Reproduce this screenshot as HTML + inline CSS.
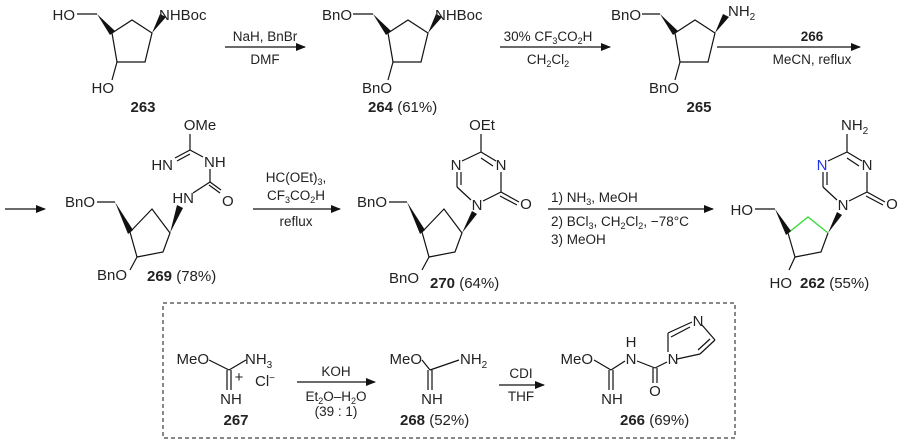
<!DOCTYPE html>
<html><head><meta charset="utf-8"><style>
html,body{margin:0;padding:0;background:#fff;}
svg{display:block;font-family:"Liberation Sans",sans-serif;}
text{font-size:15px;fill:#222;}
.r{font-size:13.5px;}
.b{font-weight:bold;}
</style></head><body>
<svg width="900" height="445" viewBox="0 0 900 445" xmlns="http://www.w3.org/2000/svg">
<defs>
<marker id="ah" markerWidth="10" markerHeight="8" refX="9" refY="4" orient="auto" markerUnits="userSpaceOnUse">
<path d="M0,0 L10,4 L0,8 Z" fill="#111"/></marker>
</defs>
<g stroke="#111" stroke-width="1.2" fill="none">
<line x1="225" y1="47" x2="305" y2="47" marker-end="url(#ah)"/>
<line x1="500" y1="47" x2="610" y2="47" marker-end="url(#ah)"/>
<line x1="717" y1="47" x2="860" y2="47" marker-end="url(#ah)"/>
<line x1="5" y1="209" x2="45" y2="209" marker-end="url(#ah)"/>
<line x1="253" y1="209" x2="340" y2="209" marker-end="url(#ah)"/>
<line x1="548" y1="209" x2="713" y2="209" marker-end="url(#ah)"/>
<line x1="297" y1="382" x2="375" y2="382" marker-end="url(#ah)"/>
<line x1="499" y1="385" x2="544" y2="385" marker-end="url(#ah)"/>
<rect x="163" y="303" width="572" height="135" stroke-dasharray="4,3" stroke-width="1"/>
</g>

<g stroke="#111" stroke-width="1.2" fill="none">
<line x1="77" y1="14" x2="97" y2="14"/>
<polygon points="112,33 132,20 152,33 145,62 117,62"/>
<line x1="117" y1="62" x2="112" y2="80"/>
</g>
<g fill="#111">
<polygon points="97,14 110,35 115,31"/>
<polygon points="152,33 160,14 166,17"/>
</g>
<text x="75" y="20" text-anchor="end">HO</text>
<text x="159" y="20">NHBoc</text>
<text x="114" y="93" text-anchor="end">HO</text>
<text x="143" y="112" text-anchor="middle" class="b">263</text>

<g transform="translate(276,0)">
<g stroke="#111" stroke-width="1.2" fill="none">
<line x1="77" y1="14" x2="97" y2="14"/>
<polygon points="112,33 132,20 152,33 145,62 117,62"/>
<line x1="117" y1="62" x2="112" y2="80"/>
</g>
<g fill="#111"><polygon points="97,14 110,35 115,31"/><polygon points="152,33 160,14 166,17"/></g>
<text x="76" y="20" text-anchor="end">BnO</text>
<text x="159" y="20">NHBoc</text>
<text x="116" y="93" text-anchor="end">BnO</text>
</g>
<text x="368" y="112"><tspan class="b">264</tspan> (61%)</text>

<g transform="translate(563,0)">
<g stroke="#111" stroke-width="1.2" fill="none">
<line x1="79" y1="14" x2="97" y2="14"/>
<polygon points="112,33 132,20 152,33 145,62 117,62"/>
<line x1="117" y1="62" x2="112" y2="80"/>
</g>
<g fill="#111"><polygon points="97,14 110,35 115,31"/><polygon points="152,33 160,14 166,17"/></g>
<text x="78" y="20" text-anchor="end">BnO</text>
<text x="165" y="16">NH<tspan font-size="10" dy="4">2</tspan></text>
<text x="116" y="93" text-anchor="end">BnO</text>
</g>
<text x="699" y="112" text-anchor="middle" class="b">265</text>

<text x="265" y="41" text-anchor="middle" class="r">NaH, BnBr</text>
<text x="265" y="64" text-anchor="middle" class="r">DMF</text>
<text x="548" y="41" text-anchor="middle" class="r">30% CF<tspan font-size="9" dy="3">3</tspan><tspan dy="-3">CO</tspan><tspan font-size="9" dy="3">2</tspan><tspan dy="-3">H</tspan></text>
<text x="548" y="64" text-anchor="middle" class="r">CH<tspan font-size="9" dy="3">2</tspan><tspan dy="-3">Cl</tspan><tspan font-size="9" dy="3">2</tspan></text>
<text x="812" y="41" text-anchor="middle" class="r b">266</text>
<text x="812" y="64" text-anchor="middle" class="r">MeCN, reflux</text>

<!-- 269 -->
<g stroke="#111" stroke-width="1.2" fill="none">
<line x1="97" y1="202" x2="115" y2="202"/>
<polygon points="130,232 152,209 170,233 163,252 137,257"/>
<line x1="137" y1="257" x2="130" y2="270"/>
<line x1="193" y1="193" x2="210" y2="182"/>
<line x1="210" y1="182" x2="221" y2="190"/>
<line x1="209" y1="185" x2="220" y2="193"/>
<line x1="210" y1="182" x2="210" y2="169"/>
<line x1="203" y1="157" x2="190" y2="150"/>
<line x1="190" y1="150" x2="175" y2="158"/>
<line x1="190" y1="154" x2="177" y2="161"/>
<line x1="190" y1="150" x2="190" y2="134"/>
</g>
<g fill="#111"><polygon points="115,202 128,234 133,230"/><polygon points="170,233 177,205 183,208"/></g>
<text x="95" y="207" text-anchor="end">BnO</text>
<text x="127" y="280" text-anchor="end">BnO</text>
<text x="200" y="130" text-anchor="middle">OMe</text>
<text x="173" y="170" text-anchor="end">HN</text>
<text x="204" y="167">NH</text>
<text x="194" y="203" text-anchor="end">HN</text>
<text x="222" y="206">O</text>
<text x="147" y="281"><tspan class="b">269</tspan> (78%)</text>

<text x="296" y="182" text-anchor="middle" class="r">HC(OEt)<tspan font-size="9" dy="3">3</tspan><tspan dy="-3">,</tspan></text>
<text x="296" y="200" text-anchor="middle" class="r">CF<tspan font-size="9" dy="3">3</tspan><tspan dy="-3">CO</tspan><tspan font-size="9" dy="3">2</tspan><tspan dy="-3">H</tspan></text>
<text x="296" y="226" text-anchor="middle" class="r">reflux</text>
<text x="551" y="202" class="r">1) NH<tspan font-size="9" dy="3">3</tspan><tspan dy="-3">, MeOH</tspan></text>
<text x="551" y="226" class="r">2) BCl<tspan font-size="9" dy="3">3</tspan><tspan dy="-3">, CH</tspan><tspan font-size="9" dy="3">2</tspan><tspan dy="-3">Cl</tspan><tspan font-size="9" dy="3">2</tspan><tspan dy="-3">, −78°C</tspan></text>
<text x="551" y="244" class="r">3) MeOH</text>

<!-- 270 -->
<g transform="translate(292,0)">
<g stroke="#111" stroke-width="1.2" fill="none">
<line x1="97" y1="202" x2="115" y2="202"/>
<polygon points="130,232 152,209 170,233 163,252 137,257"/>
<line x1="137" y1="257" x2="130" y2="270"/>
</g>
<g fill="#111"><polygon points="115,202 128,234 133,230"/><polygon points="170,233 180,211 185,214"/></g>
<text x="95" y="207" text-anchor="end">BnO</text>
<text x="127" y="283" text-anchor="end">BnO</text>
</g>
<g transform="translate(-366,0)">
<g stroke="#111" stroke-width="1.2" fill="none">
<line x1="849" y1="201" x2="867" y2="192"/>
<line x1="867" y1="192" x2="885" y2="202"/>
<line x1="866" y1="196" x2="883" y2="205"/>
<line x1="867" y1="192" x2="867" y2="172"/>
<line x1="862" y1="161" x2="847" y2="152"/>
<line x1="859" y1="166" x2="847" y2="158"/>
<line x1="847" y1="152" x2="828" y2="161"/>
<line x1="847" y1="152" x2="847" y2="134"/>
<line x1="823" y1="172" x2="823" y2="187"/>
<line x1="827" y1="172" x2="827" y2="185"/>
<line x1="823" y1="187" x2="837" y2="200"/>
</g>
<text x="843" y="210" text-anchor="middle">N</text>
<text x="867" y="170" text-anchor="middle">N</text>
<text x="822" y="170" text-anchor="middle">N</text>
<text x="892" y="209" text-anchor="middle">O</text>
<text x="848" y="130" text-anchor="middle">OEt</text>
</g>
<text x="430" y="288"><tspan class="b">270</tspan> (64%)</text>

<!-- 262 -->
<g stroke="#111" stroke-width="1.2" fill="none">
<line x1="755" y1="209" x2="775" y2="209"/>
<polyline points="828,233 821,252 795,257 788,233"/>
<line x1="795" y1="257" x2="789" y2="270"/>
<line x1="849" y1="201" x2="867" y2="192"/>
<line x1="867" y1="192" x2="885" y2="202"/>
<line x1="866" y1="196" x2="883" y2="205"/>
<line x1="867" y1="192" x2="867" y2="172"/>
<line x1="862" y1="161" x2="847" y2="152"/>
<line x1="859" y1="166" x2="847" y2="158"/>
<line x1="847" y1="152" x2="828" y2="161"/>
<line x1="847" y1="152" x2="847" y2="134"/>
<line x1="823" y1="172" x2="823" y2="187"/>
<line x1="827" y1="172" x2="827" y2="185"/>
<line x1="823" y1="187" x2="837" y2="200"/>
</g>
<polyline points="788,233 808,217 828,233" stroke="#33dd33" stroke-width="1.3" fill="none"/>
<g fill="#111"><polygon points="775,209 786,235 791,231"/><polygon points="828,233 837,212 842,215"/></g>
<text x="753" y="215" text-anchor="end">HO</text>
<text x="843" y="210" text-anchor="middle">N</text>
<text x="867" y="170" text-anchor="middle">N</text>
<text x="822" y="170" text-anchor="middle" style="fill:#2233ee">N</text>
<text x="892" y="209" text-anchor="middle">O</text>
<text x="841" y="130">NH<tspan font-size="10" dy="4">2</tspan></text>
<text x="792" y="288" text-anchor="end">HO</text>
<text x="800" y="288"><tspan class="b">262</tspan> (55%)</text>

<!-- Box -->
<g stroke="#111" stroke-width="1.2" fill="none">
<line x1="209" y1="360" x2="229" y2="370"/>
<line x1="229" y1="370" x2="246" y2="360"/>
<line x1="227" y1="370" x2="227" y2="390"/>
<line x1="231" y1="370" x2="231" y2="390"/>
<line x1="422" y1="360" x2="430" y2="370"/>
<line x1="430" y1="370" x2="459" y2="360"/>
<line x1="428" y1="370" x2="428" y2="390"/>
<line x1="432" y1="370" x2="432" y2="390"/>
<line x1="594" y1="360" x2="611" y2="370"/>
<line x1="611" y1="370" x2="625" y2="361"/>
<line x1="609" y1="370" x2="609" y2="390"/>
<line x1="613" y1="370" x2="613" y2="390"/>
<line x1="637" y1="361" x2="655" y2="368"/>
<line x1="655" y1="368" x2="667" y2="362"/>
<line x1="653" y1="368" x2="653" y2="383"/>
<line x1="657" y1="368" x2="657" y2="383"/>
<line x1="668" y1="352" x2="668" y2="333"/>
<line x1="668" y1="333" x2="692" y2="322"/>
<line x1="671" y1="337" x2="690" y2="327"/>
<line x1="702" y1="325" x2="715" y2="340"/>
<line x1="715" y1="340" x2="700" y2="354"/>
<line x1="710" y1="339" x2="698" y2="350"/>
<line x1="700" y1="354" x2="677" y2="359"/>
</g>
<text x="209" y="364" text-anchor="end">MeO</text>
<text x="245" y="364">NH<tspan font-size="10" dy="4">3</tspan></text>
<text x="239" y="382" font-size="10" text-anchor="middle">+</text>
<text x="255" y="386">Cl<tspan font-size="10" dy="-5">−</tspan></text>
<text x="231" y="404" text-anchor="middle">NH</text>
<text x="236" y="425" text-anchor="middle" class="b">267</text>
<text x="336" y="376" text-anchor="middle" class="r">KOH</text>
<text x="336" y="401" text-anchor="middle" class="r">Et<tspan font-size="9" dy="3">2</tspan><tspan dy="-3">O–H</tspan><tspan font-size="9" dy="3">2</tspan><tspan dy="-3">O</tspan></text>
<text x="336" y="416" text-anchor="middle" class="r">(39 : 1)</text>
<text x="422" y="364" text-anchor="end">MeO</text>
<text x="460" y="364">NH<tspan font-size="10" dy="4">2</tspan></text>
<text x="432" y="404" text-anchor="middle">NH</text>
<text x="400" y="425"><tspan class="b">268</tspan> (52%)</text>
<text x="521" y="378" text-anchor="middle" class="r">CDI</text>
<text x="521" y="401" text-anchor="middle" class="r">THF</text>
<text x="593" y="364" text-anchor="end">MeO</text>
<text x="631" y="347" text-anchor="middle">H</text>
<text x="631" y="364" text-anchor="middle">N</text>
<text x="673" y="364" text-anchor="middle">N</text>
<text x="698" y="326" text-anchor="middle">N</text>
<text x="612" y="404" text-anchor="middle">NH</text>
<text x="655" y="396" text-anchor="middle">O</text>
<text x="620" y="425"><tspan class="b">266</tspan> (69%)</text>
</svg>
</body></html>
